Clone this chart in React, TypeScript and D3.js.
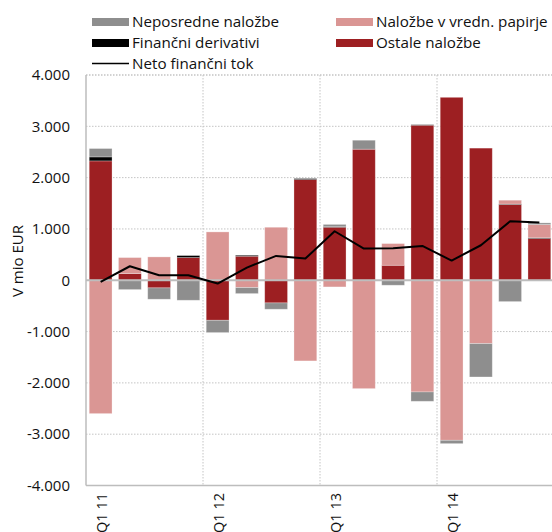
import React from "react";
import * as d3 from "d3";

const categories = [
  "Q1 11", "Q2 11", "Q3 11", "Q4 11",
  "Q1 12", "Q2 12", "Q3 12", "Q4 12",
  "Q1 13", "Q2 13", "Q3 13", "Q4 13",
  "Q1 14", "Q2 14", "Q3 14", "Q4 14",
];
const ostale = [2326, 130, -149, 442, -780, 468, -442, 1962, 1033, 2554, 292, 3021, 3565, 2575, 1475, 812];
const derivativi = [78, 0, 0, 39, 0, 19, 0, 20, 15, 0, 0, 10, 0, 0, 10, 15];
const vrednPapirji = [-2599, 312, 455, 0, 942, -143, 1033, -1572, -130, -2112, 423, -2177, -3119, -1235, 75, 258];
const neposredne = [163, -182, -221, -390, -240, -117, -123, 0, 40, 175, -97, -182, -65, -650, -416, 33];
const netoTok = [-30, 273, 97, 97, -65, 247, 474, 422, 955, 617, 624, 669, 383, 682, 1150, 1124];
const yTicks = [-4000, -3000, -2000, -1000, 0, 1000, 2000, 3000, 4000];
const xTickLabels = ["Q1 11", "Q1 12", "Q1 13", "Q1 14"];

const seriesKeys = ["ostale", "derivativi", "vredn", "neposredne"];
const colors: Record<string, string> = {
  neposredne: "#8e8e8e",
  derivativi: "#000000",
  vredn: "#da9694",
  ostale: "#9d1f22",
};

const FONT = "'Open Sans', sans-serif";

export default function App() {
  const W = 552, H = 532;
  const left = 86, right = 554, top = 75, bottom = 485.5;

  const x = d3.scaleBand<string>().domain(categories).range([left, right]).paddingInner(0.22).paddingOuter(0.11);
  const step = (right - left) / categories.length;
  const y = d3.scaleLinear().domain([-4000, 4000]).range([bottom, top]);

  const table = categories.map((c, i) => ({
    cat: c,
    ostale: ostale[i],
    derivativi: derivativi[i],
    vredn: vrednPapirji[i],
    neposredne: neposredne[i],
  }));
  const stacked = d3.stack<any>().keys(seriesKeys).offset(d3.stackOffsetDiverging)(table);

  const line = d3.line<number>()
    .x((_, i) => (x(categories[i]) as number) + x.bandwidth() / 2)
    .y((d) => y(d));

  const fmt = (v: number) => {
    if (v === 0) return "0";
    const s = Math.abs(v).toString();
    const t = s.length > 3 ? s.slice(0, s.length - 3) + "." + s.slice(s.length - 3) : s;
    return (v < 0 ? "-" : "") + t;
  };

  const legendLeft = [
    { key: "neposredne", label: "Neposredne naložbe", type: "rect" },
    { key: "derivativi", label: "Finančni derivativi", type: "rect" },
    { key: "neto", label: "Neto finančni tok", type: "line" },
  ];
  const legendRight = [
    { key: "vredn", label: "Naložbe v vredn. papirje", type: "rect" },
    { key: "ostale", label: "Ostale naložbe", type: "rect" },
  ];
  const rowY = [22, 43, 63.5];

  const renderLegend = (items: any[], sx: number) =>
    items.map((it, i) => (
      <g key={it.key}>
        {it.type === "rect" ? (
          <rect x={sx} y={rowY[i] - 4} width={37} height={8} fill={colors[it.key]} />
        ) : (
          <line x1={sx} x2={sx + 37} y1={rowY[i]} y2={rowY[i]} stroke="#000" strokeWidth={1.5} />
        )}
        <text x={sx + 40} y={rowY[i]} dy="0.35em" fontSize={15.2} fontFamily={FONT} fill="#111">
          {it.label}
        </text>
      </g>
    ));

  return (
    <svg width={W} height={H} style={{ position: "absolute", left: 0, top: 0, background: "#fff" }}>
      {yTicks.filter((t) => t !== 0 && t !== -4000).map((t) => (
        <line key={"g" + t} x1={left} x2={W} y1={y(t)} y2={y(t)} stroke="#c4c4c4"
          strokeWidth={t === 4000 ? 1.5 : 1} strokeDasharray="1.5,1.5" />
      ))}
      {[4, 8, 12].map((k) => (
        <line key={"v" + k} x1={left + k * step} x2={left + k * step} y1={top} y2={bottom}
          stroke="#c4c4c4" strokeWidth={1} strokeDasharray="1.5,1.5" />
      ))}
      {stacked.map((s) => (
        <g key={s.key} fill={colors[s.key]}>
          {s.map((d, i) => {
            const y0 = y(d[0]), y1 = y(d[1]);
            const h = Math.abs(y0 - y1);
            if (h < 0.01) return null;
            return (
              <rect key={i} x={x(categories[i])} y={Math.min(y0, y1)} width={x.bandwidth()} height={h}
                stroke="#ffffff" strokeOpacity={0.35} strokeWidth={0.8} />
            );
          })}
        </g>
      ))}
      <line x1={left} x2={W} y1={y(0)} y2={y(0)} stroke="#bdbdbd" strokeWidth={2} />
      <line x1={left} x2={left} y1={top} y2={bottom} stroke="#bdbdbd" strokeWidth={1.5} />
      <line x1={left} x2={W} y1={bottom} y2={bottom} stroke="#bdbdbd" strokeWidth={1.5} />
      <path d={line(netoTok) || ""} fill="none" stroke="#000" strokeWidth={2} strokeLinejoin="round" />
      {yTicks.map((t) => (
        <text key={"t" + t} x={70} y={y(t)} dy="0.35em" textAnchor="end" fontSize={15} fontFamily={FONT} fill="#111">
          {fmt(t)}
        </text>
      ))}
      <text transform={`translate(18,261) rotate(-90)`} textAnchor="middle" dy="0.35em" fontSize={15}
        fontFamily={FONT} fill="#111">V mio EUR</text>
      {xTickLabels.map((c) => (
        <text key={c} transform={`translate(${(x(c) as number) + x.bandwidth() / 2 + 1},493) rotate(-90)`}
          textAnchor="end" dy="0.35em" fontSize={14.5} fontFamily={FONT} fill="#111">{c}</text>
      ))}
      {renderLegend(legendLeft, 92)}
      {renderLegend(legendRight, 336)}
    </svg>
  );
}
